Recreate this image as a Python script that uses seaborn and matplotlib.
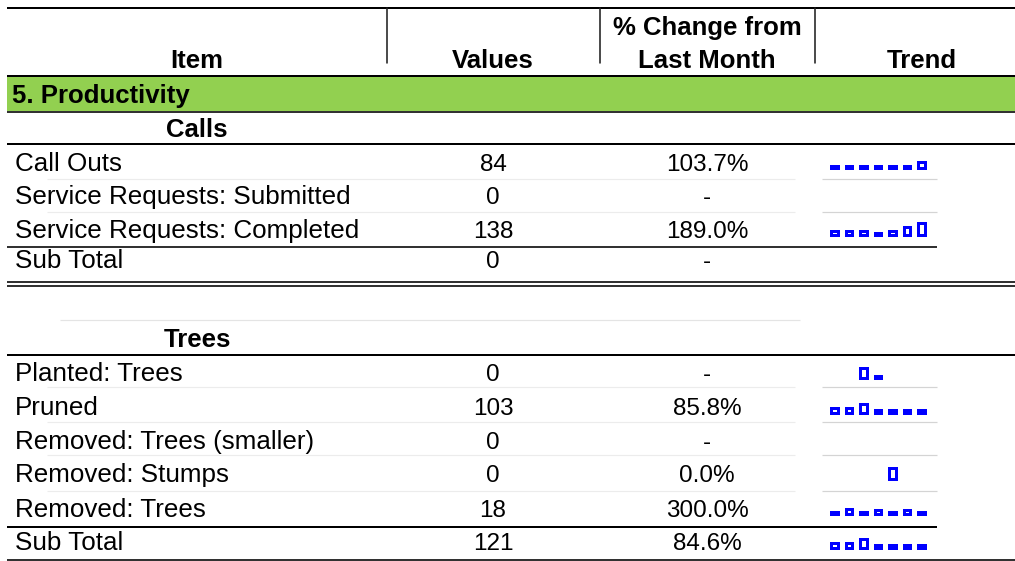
import numpy as np
import pandas as pd
import matplotlib
matplotlib.use("Agg")
import matplotlib.pyplot as plt
import seaborn as sns

# ---------------- data ----------------
header_cols = ["Item", "Values", "% Change from\nLast Month", "Trend"]
section_title = "5. Productivity"

calls_title = "Calls"
calls_items = ["Call Outs", "Service Requests: Submitted", "Service Requests: Completed", "Sub Total"]
calls_values = [84, 0, 138, 0]
calls_change = [103.7, None, 189.0, None]

trees_title = "Trees"
trees_items = ["Planted: Trees", "Pruned", "Removed: Trees (smaller)", "Removed: Stumps",
               "Removed: Trees", "Sub Total"]
trees_values = [0, 103, 0, 0, 18, 121]
trees_change = [None, 85.8, None, 0.0, 300.0, 84.6]

# sparkline trends (7 months, relative heights; NaN = no value)
trend_call_outs = [2.5, 2.5, 2.5, 2.5, 2.5, 2.5, 6.5]
trend_sr_submitted = None
trend_sr_completed = [4.5, 4.5, 4.5, 2.5, 4.5, 8.5, 12.5]
trend_calls_subtotal = None
trend_planted = [np.nan, np.nan, 10.5, 2, np.nan, np.nan, np.nan]
trend_pruned = [4.5, 4.5, 8.5, 2.5, 2.5, 2.5, 2.5]
trend_removed_smaller = None
trend_stumps = [np.nan, np.nan, np.nan, np.nan, 11.5, np.nan, np.nan]
trend_removed_trees = [2.5, 5.5, 2.5, 4.5, 2.5, 4.5, 2.5]
trend_trees_subtotal = [4.5, 4.5, 8.5, 2.5, 2.5, 2.5, 2.5]

calls_trends = [trend_call_outs, trend_sr_submitted, trend_sr_completed, trend_calls_subtotal]
trees_trends = [trend_planted, trend_pruned, trend_removed_smaller, trend_stumps,
                trend_removed_trees, trend_trees_subtotal]

# ---------------- layout ----------------
W, H = 1015, 561
sns.set_theme(style="white")
plt.rcParams["font.family"] = ["Liberation Sans", "DejaVu Sans"]
plt.rcParams["text.color"] = "black"

fig = plt.figure(figsize=(W / 100, H / 100), dpi=100)
ax = fig.add_axes([0, 0, 1, 1])
ax.set_xlim(0, W)
ax.set_ylim(H, 0)
ax.axis("off")

X0, X1 = 7, 1015
col_x = [387, 600, 815]
col_centers = [197, 493, 707, 922]
TREND_X1 = 937

def px(v):
    return v * 72 / 100  # px -> pt

def hline(y, lw=2, color="black", x0=X0, x1=X1):
    ax.plot([x0, x1], [y, y], color=color, lw=px(lw), solid_capstyle="butt")

def txt(x, y, s, ha="center", fs=18.5, bold=False):
    ax.text(x, y, s, ha=ha, va="baseline", fontsize=fs, color="black",
            fontweight="bold" if bold else "normal")

# header
hline(7.5, 2)
for cx in col_x:
    ax.plot([cx, cx], [7.5, 63], color="#222222", lw=px(1.6))
hfs = 18.5
txt(col_centers[0], 68.3, header_cols[0], fs=hfs, bold=True)
txt(col_centers[1], 68.3, header_cols[1], fs=hfs, bold=True)
l1, l2 = header_cols[2].split("\n")
txt(col_centers[2], 35, l1, fs=hfs, bold=True)
txt(col_centers[2], 68.3, l2, fs=hfs, bold=True)
txt(col_centers[3], 68.3, header_cols[3], fs=hfs, bold=True)
hline(75.5, 2)

# green section band
ax.add_patch(plt.Rectangle((X0, 76.5), X1 - X0, 34, facecolor="#92D050", edgecolor="none"))
txt(12, 103, section_title, ha="left", fs=hfs, bold=True)
hline(111.5, 1.6)

# sub-section titles
txt(col_centers[0], 136.7, calls_title, fs=hfs, bold=True)
hline(144, 2)
txt(col_centers[0], 346.7, trees_title, fs=hfs, bold=True)
hline(355, 2)

# faint separators
for y in [179, 212]:
    hline(y, 1.2, "#ececec", X0 + 40, col_x[2] - 20)
    hline(y, 1.2, "#d4d4d4", col_x[2] + 7, TREND_X1)
for y in [386.5, 421.7, 455, 490.7]:
    hline(y, 1.2, "#ececec", X0 + 40, col_x[2] - 20)
    hline(y, 1.2, "#d4d4d4", col_x[2] + 7, TREND_X1)
hline(320, 1.2, "#e4e4e4", 60, 800)

# strong separators
hline(247, 1.6, "black", X0, TREND_X1)
hline(281.5, 1.6)
hline(285.5, 1.6)
hline(526.5, 2, "black", X0, TREND_X1)
hline(559.5, 1.6)

# body rows
fs_item = 18.7
fs_num = 17.5
calls_baselines = [170.7, 204.3, 237.7, 268.3]
trees_baselines = [380.7, 415, 449, 481.7, 516.7, 550]

SPARK_X0, SPARK_X1, SPARK_H = 827, 929, 22

def fmt_change(c):
    return "-" if c is None else f"{c:.1f}%"

def draw_spark(vals, bottom):
    if vals is None:
        return
    df = pd.DataFrame({"month": list(range(len(vals))), "v": vals}).dropna()
    sax = fig.add_axes([SPARK_X0 / W, 1 - bottom / H, (SPARK_X1 - SPARK_X0) / W, SPARK_H / H])
    sns.barplot(data=df, x="month", y="v", order=list(range(len(vals))), ax=sax,
                color="white", edgecolor="#0000FF", linewidth=px(3.0), width=0.45,
                saturation=1, errorbar=None)
    sax.set_xlim(-0.5, len(vals) - 0.5)
    sax.set_ylim(0, SPARK_H)
    sax.axis("off")
    for p in sax.patches:
        p.set_clip_on(False)
        p.set_joinstyle("miter")

def draw_rows(items, values, changes, trends, baselines):
    for it, v, c, tr, yb in zip(items, values, changes, trends, baselines):
        txt(15, yb, it, ha="left", fs=fs_item)
        txt(col_centers[1], yb, str(v), fs=fs_num)
        txt(col_centers[2], yb, fmt_change(c), fs=fs_num)
        draw_spark(tr, yb - 2.5)

draw_rows(calls_items, calls_values, calls_change, calls_trends, calls_baselines)
draw_rows(trees_items, trees_values, trees_change, trees_trends, trees_baselines)

fig.savefig("out.png", dpi=100)
